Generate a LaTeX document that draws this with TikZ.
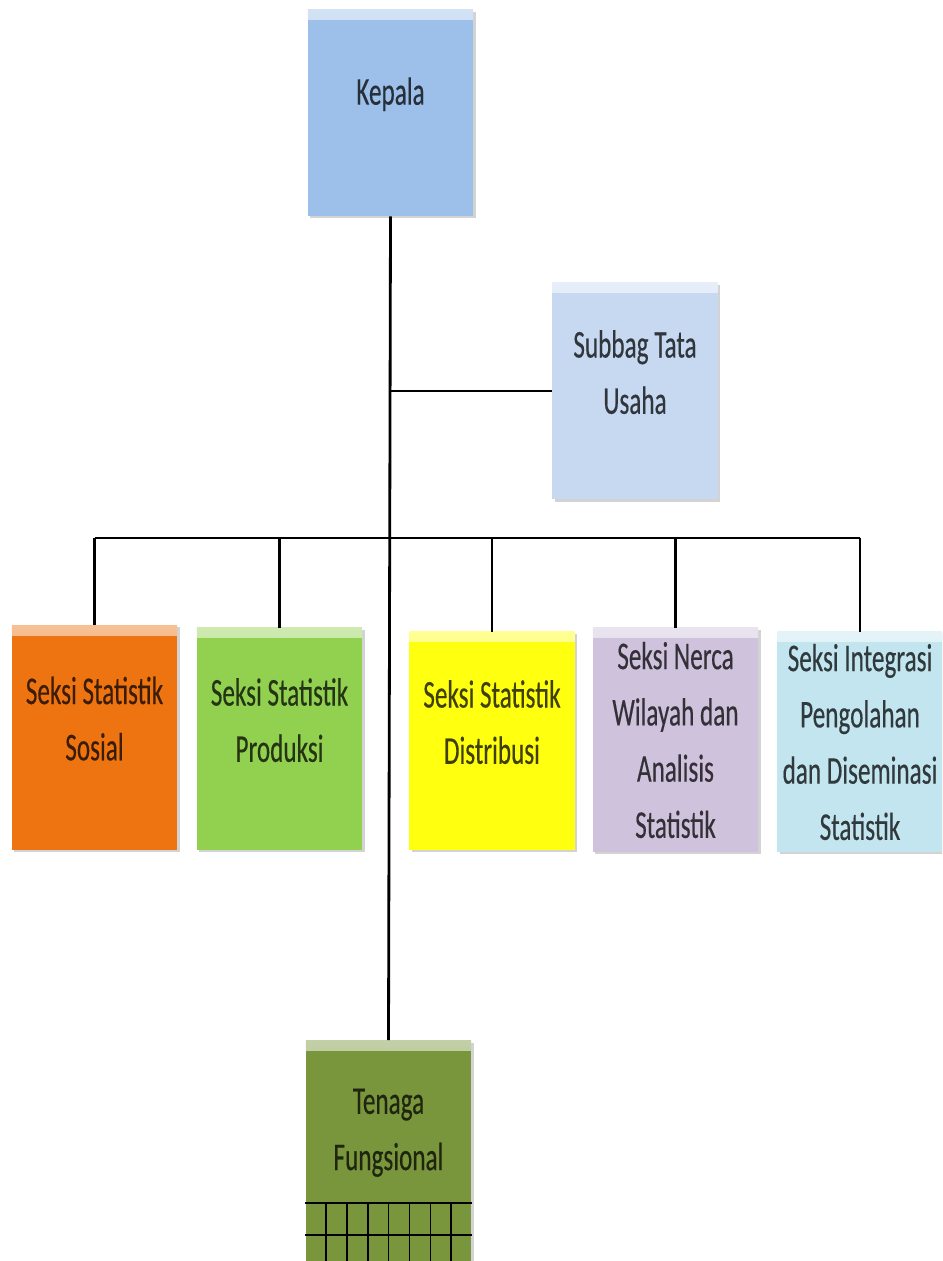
\documentclass[tikz,border=0pt]{standalone}
\usepackage{fontspec}
\setmainfont{Carlito}[FakeStretch=0.64, FakeBold=0.3]
\usetikzlibrary{shadows}
\definecolor{kepalaclr}{HTML}{9DC0EA}
\definecolor{subbagclr}{HTML}{C6D9F1}
\definecolor{sosialclr}{HTML}{EE7412}
\definecolor{produksiclr}{HTML}{92D050}
\definecolor{distribusiclr}{HTML}{FFFF10}
\definecolor{nercaclr}{HTML}{CEC2DC}
\definecolor{integrasiclr}{HTML}{C2E5EF}
\definecolor{tenagaclr}{HTML}{7A963C}

\begin{document}
\begin{tikzpicture}[x = 0.025cm, y = -0.025cm,
        unit/.style = {shape = rectangle, fill = #1, text = #1!25!black, minimum width = 4.13cm, align = center, inner sep = 0.1cm, font = \fontsize{28}{40}\selectfont, drop shadow = {shadow xshift = 0.06cm, shadow yshift = -0.06cm, opacity = 0.35}, path picture = {\shade[top color = white!55!#1, bottom color = #1] (path picture bounding box.north west) rectangle ([yshift = -0.25cm] path picture bounding box.north east);}},
        link/.style = {line width = 2pt},
        grid/.style = {line width = 1.2pt},
    ]
    \clip (0,0) rectangle (942,1261);
    \node[unit = kepalaclr, minimum height = 5.15cm, text depth = 1.1cm] (kepala) at (390.5, 113) {Kepala};
    \node[unit = subbagclr, minimum height = 5.42cm, text depth = 0.95cm] (subbag) at (635, 391) {Subbag Tata\\Usaha};
    \node[unit = sosialclr, minimum height = 5.62cm, text depth = 0.95cm] (sosial) at (94.5, 737.5) {Seksi Statistik\\Sosial};
    \node[unit = produksiclr, minimum height = 5.55cm, text depth = 0.95cm] (produksi) at (279.5, 739) {Seksi Statistik\\Produksi};
    \node[unit = distribusiclr, minimum height = 5.45cm, text depth = 0.95cm] (distribusi) at (492, 741) {Seksi Statistik\\Distribusi};
    \node[unit = nercaclr, minimum height = 5.6cm] (nerca) at (675.5, 740) {Seksi Nerca\\Wilayah dan\\Analisis\\Statistik};
    \node[unit = integrasiclr, minimum height = 5.5cm] (integrasi) at (860, 742) {Seksi Integrasi\\Pengolahan\\dan Diseminasi\\Statistik};
    \node[unit = tenagaclr, minimum height = 6.6cm, anchor = north, text depth = 2.15cm] (tenaga) at (388.5, 1040) {Tenaga\\Fungsional};
    \coordinate (bus) at (390, 538);

    \draw[link] (kepala.south) -- (tenaga.north);
    \draw[link] (kepala.south |- subbag.west) -- (subbag.west);
    \draw[link] (sosial.north |- bus) -- (integrasi.north |- bus);
    \foreach \n in {sosial, produksi, distribusi, nerca, integrasi}
        \draw[link] (\n.north) -- (\n.north |- bus);

    \draw[grid] (305, 1203) -- (472, 1203);
    \draw[grid] (305, 1235) -- (472, 1235);
    \foreach \i in {1,...,7}
        \draw[grid] (305 + \i*20.9, 1203) -- ++(0, 70);
\end{tikzpicture}
\end{document}
